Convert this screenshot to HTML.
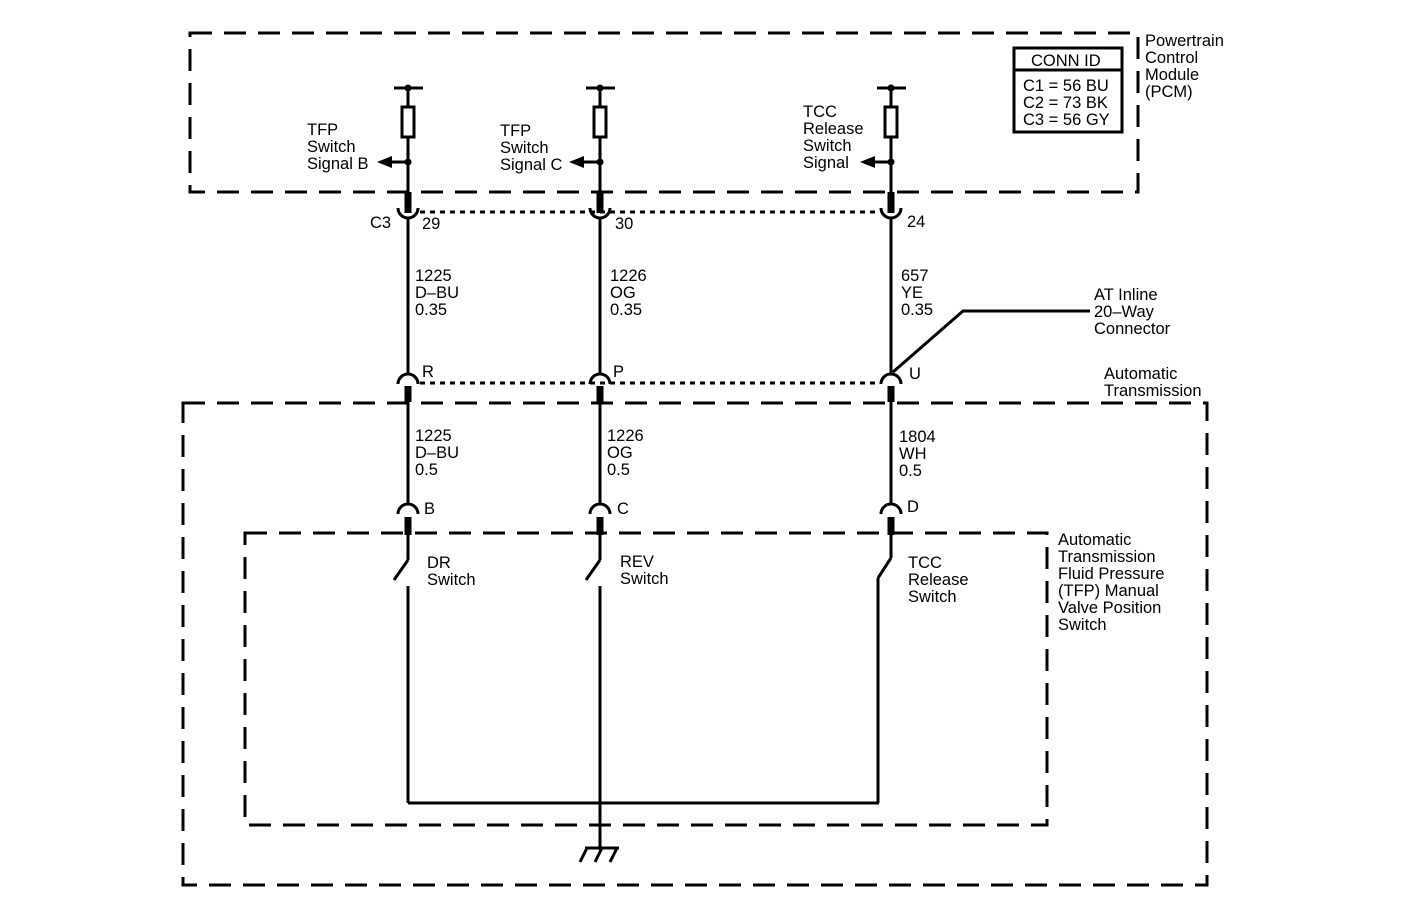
<!DOCTYPE html>
<html><head><meta charset="utf-8"><style>
html,body{margin:0;padding:0;background:#fff}
svg{display:block}
text{font-family:"Liberation Sans",Arial,sans-serif;font-size:16.5px;fill:#000}
</style></head><body>
<svg width="1408" height="920" viewBox="0 0 1408 920" xmlns="http://www.w3.org/2000/svg">
<g fill="none" stroke="#000">
<g stroke-width="3" stroke-dasharray="22,12">
<rect x="190" y="33" width="948" height="159"/>
<rect x="183" y="403" width="1024" height="482"/>
<rect x="245" y="533" width="802" height="292"/>
</g>
<g stroke-width="3" stroke-dasharray="5,5">
<line x1="420" y1="212" x2="880" y2="212"/>
<line x1="420" y1="383" x2="880" y2="383"/>
</g>
<g stroke-width="3">
<line x1="394" y1="88" x2="423" y2="88"/><line x1="586" y1="88" x2="615" y2="88"/><line x1="877" y1="88" x2="906" y2="88"/>
<line x1="408" y1="88" x2="408" y2="107"/><line x1="600" y1="88" x2="600" y2="107"/><line x1="891" y1="88" x2="891" y2="107"/>
<rect x="402" y="107" width="12" height="30"/><rect x="594" y="107" width="12" height="30"/><rect x="885" y="107" width="12" height="30"/>
<line x1="408" y1="137" x2="408" y2="192"/><line x1="600" y1="137" x2="600" y2="192"/><line x1="891" y1="137" x2="891" y2="192"/>
<line x1="408" y1="162" x2="390" y2="162"/><line x1="600" y1="162" x2="582" y2="162"/><line x1="891" y1="162" x2="873" y2="162"/>
<path d="M398 208 A10 10 0 0 0 418 208"/><path d="M590 208 A10 10 0 0 0 610 208"/><path d="M881 208 A10 10 0 0 0 901 208"/>
<line x1="408" y1="218" x2="408" y2="374"/><line x1="600" y1="218" x2="600" y2="374"/><line x1="891" y1="218" x2="891" y2="374"/>
<path d="M398 384 A10 10 0 0 1 418 384"/><path d="M590 384 A10 10 0 0 1 610 384"/><path d="M881 384 A10 10 0 0 1 901 384"/>
<line x1="408" y1="400" x2="408" y2="504"/><line x1="600" y1="400" x2="600" y2="504"/><line x1="891" y1="400" x2="891" y2="504"/>
<path d="M398 514 A10 10 0 0 1 418 514"/><path d="M590 514 A10 10 0 0 1 610 514"/><path d="M881 514 A10 10 0 0 1 901 514"/>
<line x1="408" y1="530" x2="408" y2="560"/><line x1="408" y1="560" x2="394" y2="580"/><line x1="408" y1="586" x2="408" y2="803"/>
<line x1="600" y1="530" x2="600" y2="560"/><line x1="600" y1="560" x2="586" y2="580"/><line x1="600" y1="586" x2="600" y2="850"/>
<line x1="891" y1="530" x2="891" y2="558"/><line x1="891" y1="558" x2="878" y2="578"/><line x1="878" y1="578" x2="878" y2="803"/>
<line x1="408" y1="803" x2="879" y2="803"/>
<line x1="585" y1="848" x2="619" y2="848"/>
<line x1="587" y1="848" x2="580" y2="862"/><line x1="602" y1="848" x2="595" y2="862"/><line x1="617" y1="848" x2="610" y2="862"/>
<polyline points="893,372 963,311 1090,311"/>
<rect x="1014" y="48" width="108" height="84"/>
<line x1="1014" y1="70" x2="1122" y2="70"/>
</g>
<g stroke-width="7">
<line x1="408" y1="192" x2="408" y2="213"/><line x1="600" y1="192" x2="600" y2="213"/><line x1="891" y1="192" x2="891" y2="213"/>
<line x1="408" y1="386" x2="408" y2="402"/><line x1="600" y1="386" x2="600" y2="402"/><line x1="891" y1="386" x2="891" y2="402"/>
<line x1="408" y1="517" x2="408" y2="535"/><line x1="600" y1="517" x2="600" y2="535"/><line x1="891" y1="517" x2="891" y2="535"/>
</g>
</g>
<g fill="#000">
<circle cx="408" cy="88" r="3.5"/><circle cx="600" cy="88" r="3.5"/><circle cx="891" cy="88" r="3.5"/>
<circle cx="408" cy="162" r="3.5"/><circle cx="600" cy="162" r="3.5"/><circle cx="891" cy="162" r="3.5"/>
<polygon points="377,162 392,156 392,168"/><polygon points="569,162 584,156 584,168"/><polygon points="860,162 875,156 875,168"/>
</g>
<text x="307" y="135">TFP</text><text x="307" y="152">Switch</text><text x="307" y="169">Signal B</text>
<text x="500" y="136">TFP</text><text x="500" y="153">Switch</text><text x="500" y="170">Signal C</text>
<text x="803" y="117">TCC</text><text x="803" y="134">Release</text><text x="803" y="151">Switch</text><text x="803" y="168">Signal</text>
<text x="1145" y="46">Powertrain</text><text x="1145" y="63">Control</text><text x="1145" y="80">Module</text><text x="1145" y="97">(PCM)</text>
<text x="1031" y="66">CONN ID</text>
<text x="1023" y="91">C1 = 56 BU</text><text x="1023" y="108">C2 = 73 BK</text><text x="1023" y="125">C3 = 56 GY</text>
<text x="370" y="228">C3</text><text x="422" y="229">29</text><text x="615" y="229">30</text><text x="907" y="227">24</text>
<text x="415" y="281">1225</text><text x="415" y="298">D–BU</text><text x="415" y="315">0.35</text>
<text x="610" y="281">1226</text><text x="610" y="298">OG</text><text x="610" y="315">0.35</text>
<text x="901" y="281">657</text><text x="901" y="298">YE</text><text x="901" y="315">0.35</text>
<text x="1094" y="300">AT Inline</text><text x="1094" y="317">20–Way</text><text x="1094" y="334">Connector</text>
<text x="1104" y="379">Automatic</text><text x="1104" y="396">Transmission</text>
<text x="422" y="377">R</text><text x="613" y="377">P</text><text x="909" y="379">U</text>
<text x="415" y="441">1225</text><text x="415" y="458">D–BU</text><text x="415" y="475">0.5</text>
<text x="607" y="441">1226</text><text x="607" y="458">OG</text><text x="607" y="475">0.5</text>
<text x="899" y="442">1804</text><text x="899" y="459">WH</text><text x="899" y="476">0.5</text>
<text x="424" y="514">B</text><text x="617" y="514">C</text><text x="907" y="512">D</text>
<text x="427" y="568">DR</text><text x="427" y="585">Switch</text>
<text x="620" y="567">REV</text><text x="620" y="584">Switch</text>
<text x="908" y="568">TCC</text><text x="908" y="585">Release</text><text x="908" y="602">Switch</text>
<text x="1058" y="545">Automatic</text><text x="1058" y="562">Transmission</text><text x="1058" y="579">Fluid Pressure</text><text x="1058" y="596">(TFP) Manual</text><text x="1058" y="613">Valve Position</text><text x="1058" y="630">Switch</text>
</svg>
</body></html>
